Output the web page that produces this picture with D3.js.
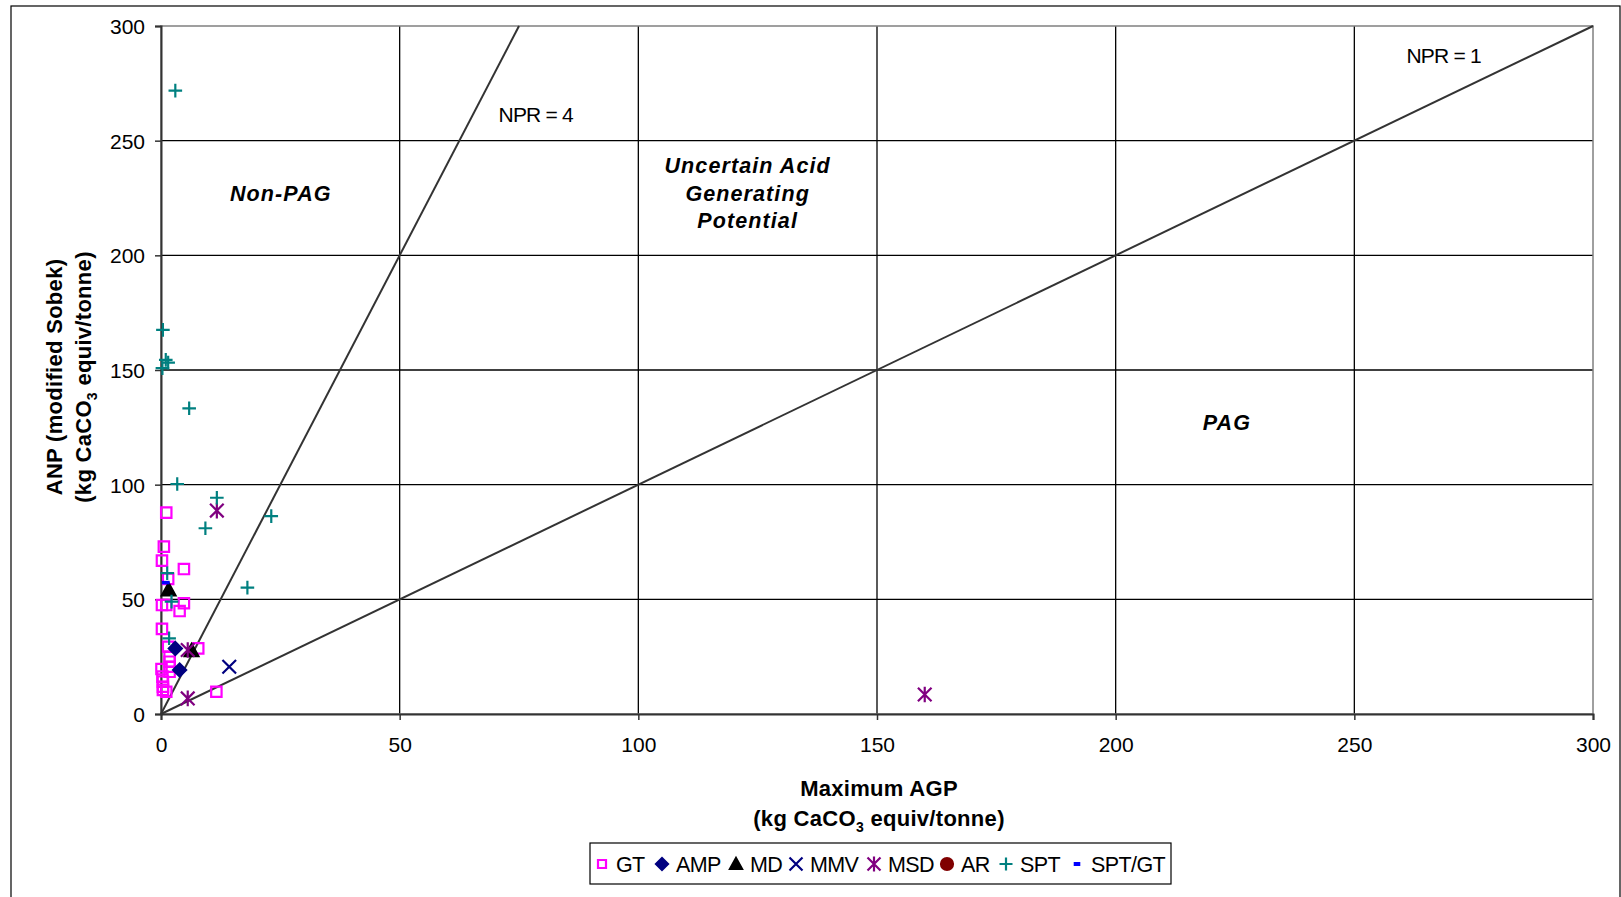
<!DOCTYPE html>
<html>
<head>
<meta charset="utf-8">
<script src="https://cdn.jsdelivr.net/npm/d3@7"></script>
<style>
  body { margin:0; background:#fff; }
  svg { font-family: Arial, "Liberation Sans", sans-serif; }
</style>
</head>
<body>
<div id="canvas"></div>
<script>
// data: [Maximum AGP, ANP]
var gtPts = [[1.1,87.8],[0.6,73.0],[0.2,66.9],[4.8,63.2],[1.5,58.9],[0.2,47.5],[1.1,47.5],[4.8,48.3],
    [3.9,44.9],[0.2,37.1],[1.5,29.3],[7.8,28.6],[1.8,25.0],[1.8,22.8],[0.1,19.6],[1.8,20.6],[1.8,18.4],
    [0.3,16.3],[0.4,14.1],[0.4,11.9],[0.4,10.5],[1.1,9.7],[11.6,9.7]];
var ampPts = [[3.0,28.6],[3.9,19.2]];
var mdPts = [[1.6,54.1],[6.4,27.6]];
var mmvPts = [[14.3,20.6]];
var msdPts = [[11.7,88.7],[5.6,27.9],[5.6,6.8],[160,8.5]];
var arPts = [];
var sptPts = [[3.0,271.8],[0.4,167.5],[1.0,154.4],[1.5,153.2],[0.3,150.8],[5.9,133.3],[3.4,100.3],
    [11.7,94.3],[9.3,81.0],[23.1,86.3],[18.1,55.1],[1.3,61.4],[2.2,49.0],[1.7,33.0]];
var sptgtPts = [[1.0,57.3]];

var seriesNames = ['GT','AMP','MD','MMV','MSD','AR','SPT','SPT/GT'];
var seriesColors = ['#ff00ff','#000080','#000000','#000080','#800080','#800000','#008080','#0000ff'];
var seriesShapes = ['square','diamond','triangle','x','star','circle','plus','dash'];
var seriesData = [gtPts, ampPts, mdPts, mmvPts, msdPts, arPts, sptPts, sptgtPts];

var ticks = [0,50,100,150,200,250,300];
var nprLines = [{ratio:4, label:'NPR = 4', at:[78.5,261.5]}, {ratio:1, label:'NPR = 1', at:[268.7,287]}];

var W = 1621, H = 897;
var m = {t:26, r:28, b:183, l:161};
var w = W - m.l - m.r, h = H - m.t - m.b;

var svg = d3.select('#canvas').append('svg').attr('width',W).attr('height',H);

// outer chart border
svg.append('rect').attr('x',11).attr('y',6).attr('width',1609).attr('height',900)
    .attr('fill','none').attr('stroke','#000').attr('stroke-width',1.2);

var plot = svg.append('g').attr('transform','translate(' + m.l + ',' + m.t + ')');

var x = d3.scaleLinear().domain([0,300]).range([0,w]);
var y = d3.scaleLinear().domain([0,300]).range([h,0]);

// gridlines
plot.selectAll('.hg').data(ticks.slice(1,-1)).enter().append('line')
    .attr('x1',0).attr('x2',w).attr('y1',function(d){return y(d)}).attr('y2',function(d){return y(d)})
    .attr('stroke','#000').attr('stroke-width',1.3);
plot.selectAll('.vg').data(ticks.slice(1,-1)).enter().append('line')
    .attr('y1',0).attr('y2',h).attr('x1',function(d){return x(d)}).attr('x2',function(d){return x(d)})
    .attr('stroke','#000').attr('stroke-width',1.3);

// plot area border (top/right grey)
plot.append('rect').attr('width',w).attr('height',h).attr('fill','none')
    .attr('stroke','#808080').attr('stroke-width',1.5);

// axes
var xAxis = plot.append('g').attr('transform','translate(0,' + h + ')')
    .call(d3.axisBottom(x).tickValues(ticks).tickSize(6).tickPadding(17));
var yAxis = plot.append('g')
    .call(d3.axisLeft(y).tickValues(ticks).tickSize(6).tickPadding(10));
[xAxis, yAxis].forEach(function(a){
    a.select('.domain').attr('stroke','#333').attr('stroke-width',2);
    a.selectAll('.tick line').attr('stroke','#333').attr('stroke-width',1.5);
    a.selectAll('.tick text').attr('font-size',21).attr('fill','#000')
        .attr('font-family','Arial, "Liberation Sans", sans-serif');
});
yAxis.selectAll('.tick text').attr('dy','0.35em');
xAxis.selectAll('.tick text').attr('dy','0.71em');

// NPR lines
plot.selectAll('.npr').data(nprLines).enter().append('line')
    .attr('x1',x(0)).attr('y1',y(0))
    .attr('x2',function(d){return x(Math.min(300, 300/d.ratio))})
    .attr('y2',function(d){return y(Math.min(300, 300/d.ratio*d.ratio))})
    .attr('stroke','#333').attr('stroke-width',2);
plot.selectAll('.nprlab').data(nprLines).enter().append('text')
    .attr('x',function(d){return x(d.at[0])}).attr('y',function(d){return y(d.at[1])})
    .attr('dy','0.35em').attr('text-anchor','middle').attr('font-size',21).attr('letter-spacing',-0.8)
    .text(function(d){return d.label});

// region labels
var regions = [
    {lines:['Non-PAG'], at:[25.1,227]},
    {lines:['Uncertain Acid','Generating','Potential'], at:[122.9,227]},
    {lines:['PAG'], at:[223.3,127]}
];
regions.forEach(function(r){
    var t = plot.append('text').attr('text-anchor','middle').attr('font-size',21.5)
        .attr('font-weight','bold').attr('font-style','italic').attr('letter-spacing',1.1);
    r.lines.forEach(function(s,i){
        t.append('tspan').attr('x',x(r.at[0]))
            .attr('y',y(r.at[1]) + (i - (r.lines.length-1)/2)*27.5).attr('dy','0.35em').text(s);
    });
});

// marker paths
function shapePath(type, s){
    switch(type){
        case 'square': return 'M' + (-s) + ',' + (-s) + 'h' + 2*s + 'v' + 2*s + 'h' + (-2*s) + 'Z';
        case 'diamond': return 'M0,' + (-s) + 'L' + s + ',0L0,' + s + 'L' + (-s) + ',0Z';
        case 'triangle': return 'M0,' + (-s) + 'L' + s + ',' + (s*0.8) + 'L' + (-s) + ',' + (s*0.8) + 'Z';
        case 'circle': return d3.symbol(d3.symbolCircle, Math.PI*s*s)();
        case 'x': return 'M' + (-s) + ',' + (-s) + 'L' + s + ',' + s + 'M' + (-s) + ',' + s + 'L' + s + ',' + (-s);
        case 'plus': return 'M' + (-s) + ',0H' + s + 'M0,' + (-s) + 'V' + s;
        case 'star': return 'M' + (-s) + ',' + (-s) + 'L' + s + ',' + s + 'M' + (-s) + ',' + s + 'L' + s + ',' + (-s) + 'M0,' + (-s*1.15) + 'V' + (s*1.15);
        case 'dash': return 'M' + (-s*0.6) + ',0H' + (s*0.6);
    }
}
var shapeSize = {square:5.2, diamond:6.5, triangle:6.8, circle:5.5, x:6.8, plus:6.8, star:6.8, dash:6.5};
function isFilled(t){ return t==='diamond' || t==='triangle' || t==='circle'; }
function strokeW(t){ return t==='dash' ? 3.5 : 2.2; }

seriesData.forEach(function(pts, i){
    var t = seriesShapes[i], c = seriesColors[i];
    plot.selectAll('.s' + i).data(pts).enter().append('path')
        .attr('transform',function(d){return 'translate(' + x(d[0]) + ',' + y(d[1]) + ')'})
        .attr('d', shapePath(t, shapeSize[t]))
        .attr('fill', isFilled(t) ? c : 'none')
        .attr('stroke', c).attr('stroke-width', strokeW(t));
});

// axis titles
var yt = svg.append('text').attr('transform','translate(62,377) rotate(-90)')
    .attr('text-anchor','middle').attr('font-size',22).attr('font-weight','bold').attr('letter-spacing',0.3);
yt.append('tspan').attr('x',0).attr('y',0).text('ANP (modified Sobek)');
var yl2 = yt.append('tspan').attr('x',0).attr('y',29);
yl2.append('tspan').text('(kg CaCO');
yl2.append('tspan').attr('font-size',14).attr('dy',6).text('3');
yl2.append('tspan').attr('dy',-6).text(' equiv/tonne)');

var xt = svg.append('text').attr('text-anchor','middle').attr('font-size',22).attr('font-weight','bold')
    .attr('letter-spacing',0.3);
xt.append('tspan').attr('x',879).attr('y',796).text('Maximum AGP');
var xl2 = xt.append('tspan').attr('x',879).attr('y',826);
xl2.append('tspan').text('(kg CaCO');
xl2.append('tspan').attr('font-size',14).attr('dy',6).text('3');
xl2.append('tspan').attr('dy',-6).text(' equiv/tonne)');

// legend
var legend = svg.append('g');
legend.append('rect').attr('x',590).attr('y',843).attr('width',581).attr('height',41)
    .attr('fill','#fff').attr('stroke','#000').attr('stroke-width',1.2);
var legX = [602,662,736,796,874,947,1006,1077];
var legSize = {square:4, diamond:6, triangle:6, circle:6, x:6.5, plus:6.5, star:6.5, dash:5.5};
seriesNames.forEach(function(n,i){
    var t = seriesShapes[i], c = seriesColors[i];
    legend.append('path').attr('transform','translate(' + legX[i] + ',864)')
        .attr('d', shapePath(t, legSize[t]))
        .attr('fill', isFilled(t) ? c : 'none')
        .attr('stroke', c).attr('stroke-width', t === 'dash' ? 4 : strokeW(t));
    legend.append('text').attr('x',legX[i] + 14).attr('y',864).attr('dy','0.35em')
        .attr('font-size',21.5).attr('letter-spacing',-0.6).text(n);
});
</script>
</body>
</html>
